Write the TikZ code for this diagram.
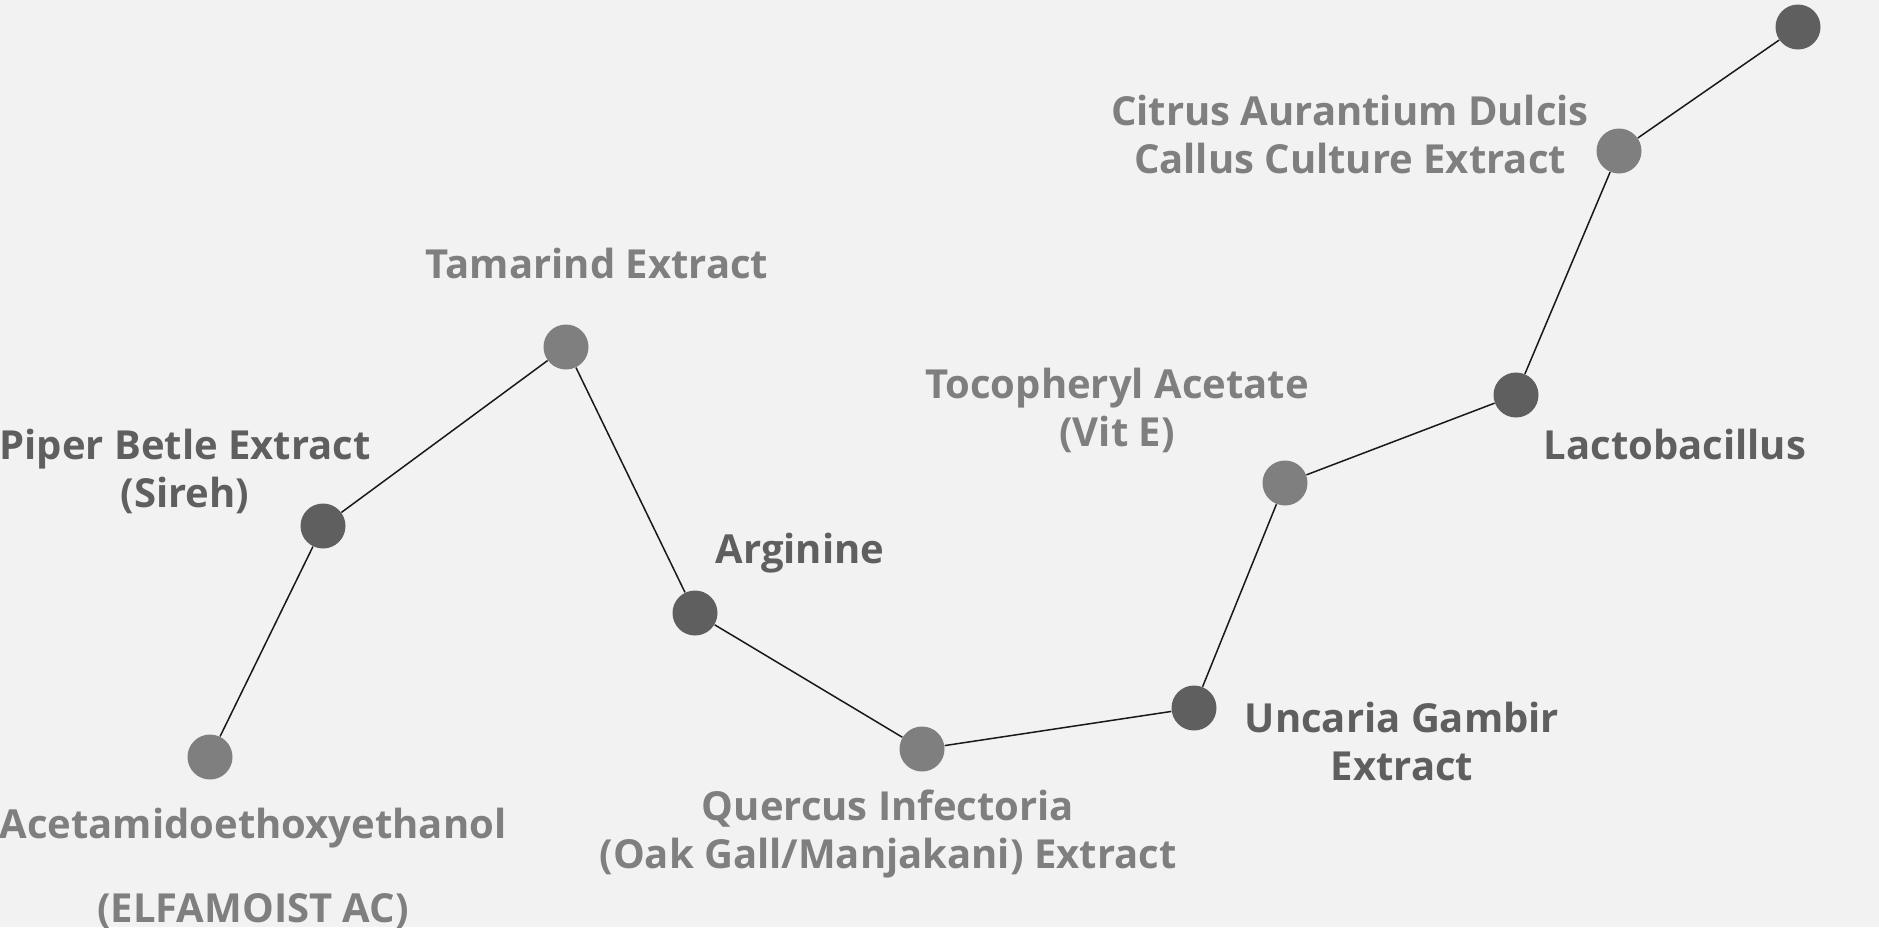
\documentclass[tikz,border=0pt]{standalone}
\usepackage{fontspec}
\setmainfont{Open Sans}[BoldFont={Open Sans Bold}]
\definecolor{bg}{HTML}{F2F2F2}
\definecolor{darkdot}{HTML}{5F5F5F}
\definecolor{lightdot}{HTML}{7F7F7F}
\tikzset{
  dot/.style={circle,minimum size=22.5pt,inner sep=0pt,draw=none},
  darkd/.style={dot,fill=darkdot},
  lightd/.style={dot,fill=lightdot},
  lbl/.style={inner sep=0pt,align=center,font=\bfseries\fontsize{20}{24}\selectfont},
  dlbl/.style={lbl,text=darkdot},
  llbl/.style={lbl,text=lightdot},
  link/.style={draw=black!90,line width=0.75pt}
}
\begin{document}
\begin{tikzpicture}[x=0.5pt,y=-0.5pt]
\fill[bg] (0,0) rectangle (1879,927);
\useasboundingbox (0,0) rectangle (1879,927);
\node[lightd] (a1) at (210,757) {};
\node[darkd]  (a2) at (323,526) {};
\node[lightd] (a3) at (566,347) {};
\node[darkd]  (a4) at (695,613) {};
\node[lightd] (a5) at (922,749) {};
\node[darkd]  (a6) at (1194,708) {};
\node[lightd] (a7) at (1285,483) {};
\node[darkd]  (a8) at (1516,395) {};
\node[lightd] (a9) at (1619,151) {};
\node[darkd]  (a10) at (1798,27) {};
\draw[link] (a1) -- (a2) -- (a3) -- (a4) -- (a5) -- (a6) -- (a7) -- (a8) -- (a9) -- (a10);
\node[llbl] (t1) at (253,828) {Acetamidoethoxyethanol};
\node[llbl] (t1b) at (253,911) {(ELFAMOIST AC)};
\node[dlbl] (t2) at (185,471) {Piper Betle Extract\\(Sireh)};
\node[llbl] (t3) at (597,263) {Tamarind Extract};
\node[dlbl] (t4) at (800,553) {Arginine};
\node[llbl] (t5) at (888,834) {Quercus Infectoria\\(Oak Gall/Manjakani) Extract};
\node[dlbl] (t6) at (1402,741) {Uncaria Gambir\\Extract};
\node[llbl] (t7) at (1117,410) {Tocopheryl Acetate\\(Vit E)};
\node[dlbl] (t8) at (1675,444) {Lactobacillus};
\node[llbl] (t9) at (1350,134) {Citrus Aurantium Dulcis\\Callus Culture Extract};
\end{tikzpicture}
\end{document}
